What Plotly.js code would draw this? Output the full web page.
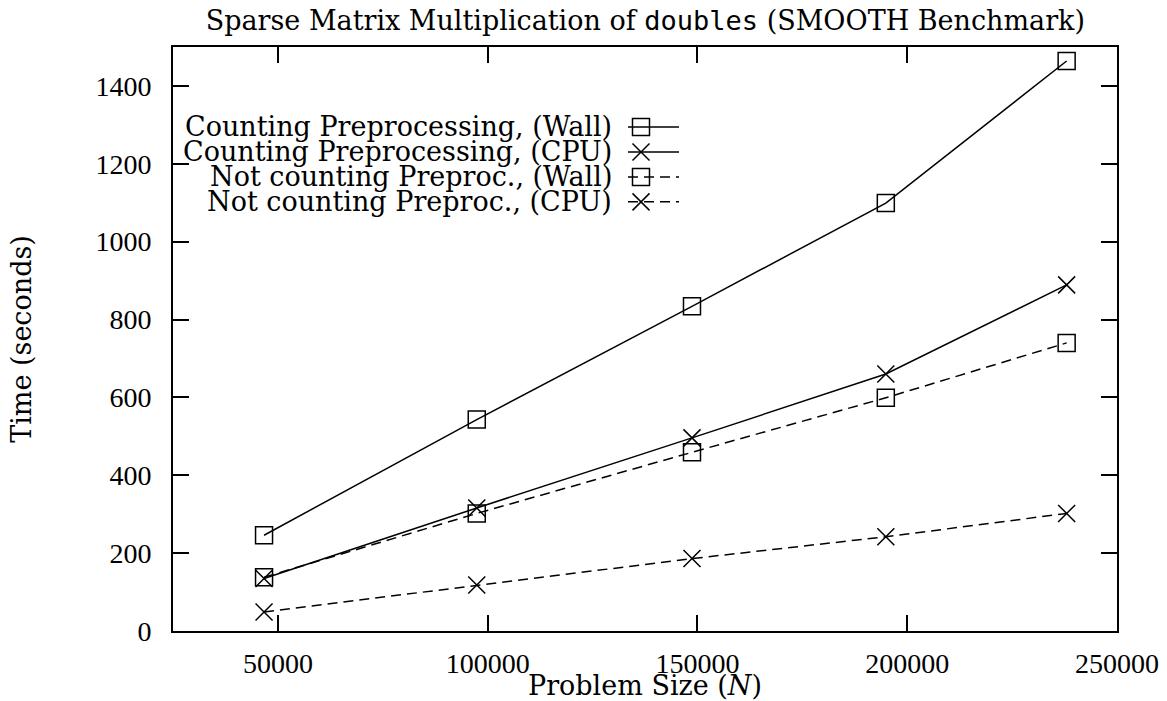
<!DOCTYPE html>
<html>
<head>
<meta charset="utf-8">
<script src="https://cdn.plot.ly/plotly-3.0.1.min.js"></script>
<style>html,body{margin:0;padding:0;background:#fff;}#chart{width:1167px;height:701px;}</style>
</head>
<body>
<div id="chart"></div>
<script>
// ---- data ----
var problemSize = [46700, 97400, 148700, 194900, 238000];
var wallCounting = [246, 543, 834, 1099, 1464];
var cpuCounting = [135, 316, 496, 660, 889];
var wallNotCounting = [138, 302, 459, 599, 740];
var cpuNotCounting = [49, 118, 186, 242, 302];
var seriesNames = [
  "Counting Preprocessing, (Wall)",
  "Counting Preprocessing, (CPU)",
  "Not counting Preproc., (Wall)",
  "Not counting Preproc., (CPU)"
];
var xTicks = [50000, 100000, 150000, 200000, 250000];
var yTicks = [0, 200, 400, 600, 800, 1000, 1200, 1400];

var TICKFONT = "'Liberation Serif', 'Times New Roman', serif";
var FONT = "'DejaVu Serif', 'Liberation Serif', serif";
var TXT = 27;
var seriesY = [wallCounting, cpuCounting, wallNotCounting, cpuNotCounting];
var symbols = ["square-open", "x-thin-open", "square-open", "x-thin-open"];
var dashes = ["solid", "solid", "10px,6px", "10px,6px"];

var traces = seriesY.map(function (ys, i) {
  return {
    type: "scatter", mode: "lines+markers", name: seriesNames[i],
    x: problemSize, y: ys, showlegend: false,
    line: {color: "#000", width: 1.5, dash: dashes[i]},
    marker: {symbol: symbols[i], size: 17, color: "#000", line: {color: "#000", width: 1.5}}
  };
});

// custom gnuplot-style key (text right aligned, sample on the right)
var plotL = 173, plotR = 1117, plotT = 47, plotB = 631.5;
var pw = plotR - plotL, ph = plotB - plotT;
function px2x(p) { return (p - plotL) / pw; }
function py2y(p) { return (plotB - p) / ph; }
var keyRows = [127, 152, 177, 202];
var annotations = [], shapes = [];
seriesNames.forEach(function (nm, i) {
  var yy = py2y(keyRows[i]);
  annotations.push({
    xref: "paper", yref: "paper", x: px2x(613), y: yy, xanchor: "right", yanchor: "middle",
    text: nm, showarrow: false, borderpad: 0, font: {family: FONT, size: TXT, color: "#000"}
  });
  shapes.push({type: "line", xref: "paper", yref: "paper", x0: px2x(628), x1: px2x(679), y0: yy, y1: yy,
    line: {color: "#000", width: 1.5, dash: i < 2 ? "solid" : "10px,6px"}});
  if (symbols[i] === "square-open") {
    shapes.push({type: "rect", xref: "paper", yref: "paper", xsizemode: "pixel", ysizemode: "pixel",
      xanchor: px2x(641), yanchor: yy, x0: -8.5, x1: 8.5, y0: -8.5, y1: 8.5,
      line: {color: "#000", width: 1.5}, fillcolor: "rgba(0,0,0,0)"});
  } else {
    shapes.push({type: "path", xref: "paper", yref: "paper", xsizemode: "pixel", ysizemode: "pixel",
      xanchor: px2x(641), yanchor: yy, path: "M-8.5,-8.5L8.5,8.5M-8.5,8.5L8.5,-8.5",
      line: {color: "#000", width: 1.5}});
  }
});

var axisCommon = {
  showline: true, linecolor: "#000", linewidth: 2, mirror: "ticks",
  ticks: "inside", ticklen: 16, tickwidth: 2, tickcolor: "#000",
  showgrid: false, zeroline: false,
  tickfont: {family: TICKFONT, size: 28, color: "#000"}
};

var layout = {
  width: 1167, height: 701,
  paper_bgcolor: "#fff", plot_bgcolor: "#fff",
  margin: {l: plotL, r: 1167 - plotR, t: plotT, b: 701 - plotB, pad: 0},
  font: {family: FONT, color: "#000"},
  title: {
    text: "Sparse Matrix Multiplication of <span style=\"font-family:'DejaVu Sans Mono', monospace\">doubles</span> (SMOOTH Benchmark)",
    font: {family: FONT, size: TXT, color: "#000"},
    x: 0.553, xref: "container", xanchor: "center", y: 0.971, yref: "container", yanchor: "middle"
  },
  xaxis: Object.assign({}, axisCommon, {
    range: [25000, 250000], tickvals: xTicks, ticktext: xTicks.map(String),
    ticklabelstandoff: 6,
    title: {text: "Problem Size (<i>N</i>)", font: {family: FONT, size: TXT, color: "#000"}, standoff: 0}
  }),
  yaxis: Object.assign({}, axisCommon, {
    range: [0, 1500], tickvals: yTicks, ticktext: yTicks.map(String),
    ticklabelstandoff: 14,
    title: {text: "Time (seconds)", font: {family: FONT, size: TXT, color: "#000"}, standoff: 56}
  }),
  annotations: annotations,
  shapes: shapes,
  showlegend: false
};

Plotly.newPlot("chart", traces, layout, {displayModeBar: false, staticPlot: true});
</script>
</body>
</html>
